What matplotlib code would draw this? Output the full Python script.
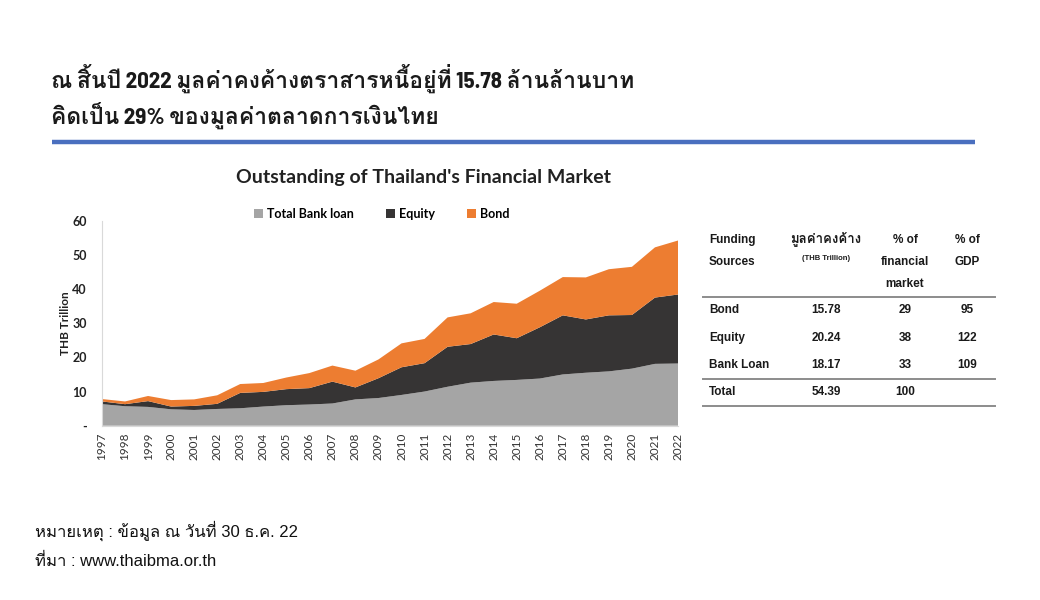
import matplotlib
matplotlib.use('Agg')
import matplotlib.pyplot as plt
from matplotlib.lines import Line2D

# ---- data (THB trillion) ----
years = list(range(1997, 2023))
bank_loan = [6.3, 5.7, 5.5, 4.8, 4.6, 4.9, 5.1, 5.6, 6.0, 6.2, 6.5, 7.7, 8.1,
             9.0, 10.0, 11.4, 12.6, 13.1, 13.4, 13.8, 15.0, 15.5, 15.9, 16.7, 18.1, 18.2]
equity = [0.8, 0.6, 1.7, 0.8, 1.2, 1.5, 4.5, 4.3, 4.7, 4.8, 6.4, 3.5, 5.8,
          8.1, 8.3, 11.7, 11.3, 13.6, 12.2, 15.0, 17.3, 15.6, 16.4, 15.7, 19.4, 20.2]
bond = [0.7, 0.8, 1.5, 1.9, 1.9, 2.5, 2.6, 2.6, 3.4, 4.4, 4.7, 4.9, 5.5,
        7.0, 7.1, 8.6, 9.0, 9.5, 10.1, 10.7, 11.2, 12.3, 13.5, 14.1, 14.7, 15.8]
series_names = ['Total Bank loan', 'Equity', 'Bond']
y_ticks = [0, 10, 20, 30, 40, 50, 60]

# table
tbl_header = ['Funding\nSources', 'มูลค่าคงค้าง', '% of\nfinancial\nmarket', '% of\nGDP']
tbl_unit = '(THB Trillion)'
tbl_sources = ['Bond', 'Equity', 'Bank Loan', 'Total']
tbl_outstanding = ['15.78', '20.24', '18.17', '54.39']
tbl_pct_market = ['29', '38', '33', '100']
tbl_pct_gdp = ['95', '122', '109', '']

title_lines = ['ณ สิ้นปี 2022 มูลค่าคงค้างตราสารหนี้อยู่ที่ 15.78 ล้านล้านบาท',
               'คิดเป็น 29% ของมูลค่าตลาดการเงินไทย']
chart_title = "Outstanding of Thailand's Financial Market"
notes = ['หมายเหตุ : ข้อมูล ณ วันที่ 30 ธ.ค. 22', 'ที่มา : www.thaibma.or.th']

colors = ['#a5a5a5', '#363434', '#ed7d31']
W, H = 1040, 600

TITLE_FONT = ['Barlow Semi Condensed', 'Loma', 'DejaVu Sans']
LAT_FONT = ['Lato', 'DejaVu Sans']
TBL_FONT = ['Liberation Sans', 'Loma', 'DejaVu Sans']
NOTE_FONT = ['Liberation Sans', 'Loma', 'DejaVu Sans']

UPPER = {'\u0e31', '\u0e34', '\u0e35', '\u0e36', '\u0e37', '\u0e47'}


def thai(s):
    # no shaping in matplotlib: swap tone marks that have no upper vowel
    # under them for the font's lowered presentation forms (Thai PUA)
    out = []
    for i, ch in enumerate(s):
        if '\u0e48' <= ch <= '\u0e4c' and (i == 0 or s[i - 1] not in UPPER):
            out.append(chr(0xF70A + ord(ch) - 0x0E48))
        else:
            out.append(ch)
    return ''.join(out)


fig = plt.figure(figsize=(W / 100, H / 100), dpi=100)

# overlay in pixel coordinates for text/rules
ov = fig.add_axes([0, 0, 1, 1])
ov.set_xlim(0, W)
ov.set_ylim(H, 0)
ov.axis('off')

# headline
for i, line in enumerate(title_lines):
    ov.text(51, 78 + i * 37, thai(line), fontsize=16.5, fontweight='bold', family=TITLE_FONT,
            va='center', ha='left', color='#1a1a1a')
ov.add_line(Line2D([52, 975], [142, 142], color='#4a6fbf', lw=3.2, solid_capstyle='butt'))

# chart title
ov.text(423, 177, chart_title, fontsize=14, fontweight='bold', family=LAT_FONT,
        ha='center', va='center', color='#222222')

# main area chart
ax = fig.add_axes([102 / W, (H - 425.7) / H, (678 - 102) / W, 205 / H])
ax.stackplot(years, bank_loan, equity, bond, colors=colors, labels=series_names, lw=0)
ax.set_xlim(years[0], years[-1])
ax.set_ylim(0, 60)
ax.set_yticks(y_ticks)
ax.set_yticklabels(['-' if v == 0 else str(v) for v in y_ticks])
ax.set_xticks(years)
ax.set_xticklabels([str(y) for y in years], rotation=90)
ax.tick_params(length=0)
ax.tick_params(axis='y', pad=11)
ax.tick_params(axis='x', pad=5)
for lab in ax.get_yticklabels():
    lab.set_family(LAT_FONT)
    lab.set_fontweight('bold')
    lab.set_fontsize(9)
    lab.set_color('#222222')
for lab in ax.get_xticklabels():
    lab.set_family(LAT_FONT)
    lab.set_fontsize(8.5)
    lab.set_color('#333333')
for s in ['top', 'right']:
    ax.spines[s].set_visible(False)
ax.spines['left'].set_color('#d9d9d9')
ax.spines['bottom'].set_color('#d9d9d9')
ax.set_ylabel('THB Trillion', fontsize=8.5, fontweight='bold', family=LAT_FONT,
              color='#222222', labelpad=1)
ax.legend(loc='lower left', bbox_to_anchor=((248 - 102) / 576, 0.975), ncol=3,
          frameon=False, handlelength=0.7, handleheight=0.7, handletextpad=0.3,
          columnspacing=2.6, borderaxespad=0.1,
          prop={'family': LAT_FONT, 'weight': 'bold', 'size': 9})

# table
col_x = [709, 826, 905, 967]
tkw = dict(fontsize=8.5, fontweight='bold', family=TBL_FONT, va='center', color='#1a1a1a')
for i, t in enumerate(tbl_header[0].split('\n')):
    ov.text(col_x[0], 240 + i * 22, t, ha='left', **tkw)
ov.text(col_x[1], 239, thai(tbl_header[1]), ha='center', fontsize=9.5, fontweight='bold',
        family=TBL_FONT, va='center', color='#1a1a1a')
ov.text(col_x[1], 259, tbl_unit, fontsize=5.5, fontweight='bold', family=TBL_FONT,
        ha='center', va='center', color='#1a1a1a')
for i, t in enumerate(tbl_header[2].split('\n')):
    ov.text(col_x[2], 240 + i * 22, t, ha='center', **tkw)
for i, t in enumerate(tbl_header[3].split('\n')):
    ov.text(col_x[3], 240 + i * 22, t, ha='center', **tkw)

row_y = [310, 338, 365, 392]
for r, y in enumerate(row_y):
    ov.text(col_x[0], y, tbl_sources[r], ha='left', **tkw)
    ov.text(col_x[1], y, tbl_outstanding[r], ha='center', **tkw)
    ov.text(col_x[2], y, tbl_pct_market[r], ha='center', **tkw)
    ov.text(col_x[3], y, tbl_pct_gdp[r], ha='center', **tkw)
for y in [297, 379, 406]:
    ov.add_line(Line2D([703, 995], [y, y], color='#8c8c8c', lw=1.4))

# footnotes
for i, note in enumerate(notes):
    ov.text(35, 531 + i * 30, thai(note), fontsize=12, family=NOTE_FONT,
            ha='left', va='center', color='#111111')

fig.savefig('out.png', dpi=100, facecolor='white')
